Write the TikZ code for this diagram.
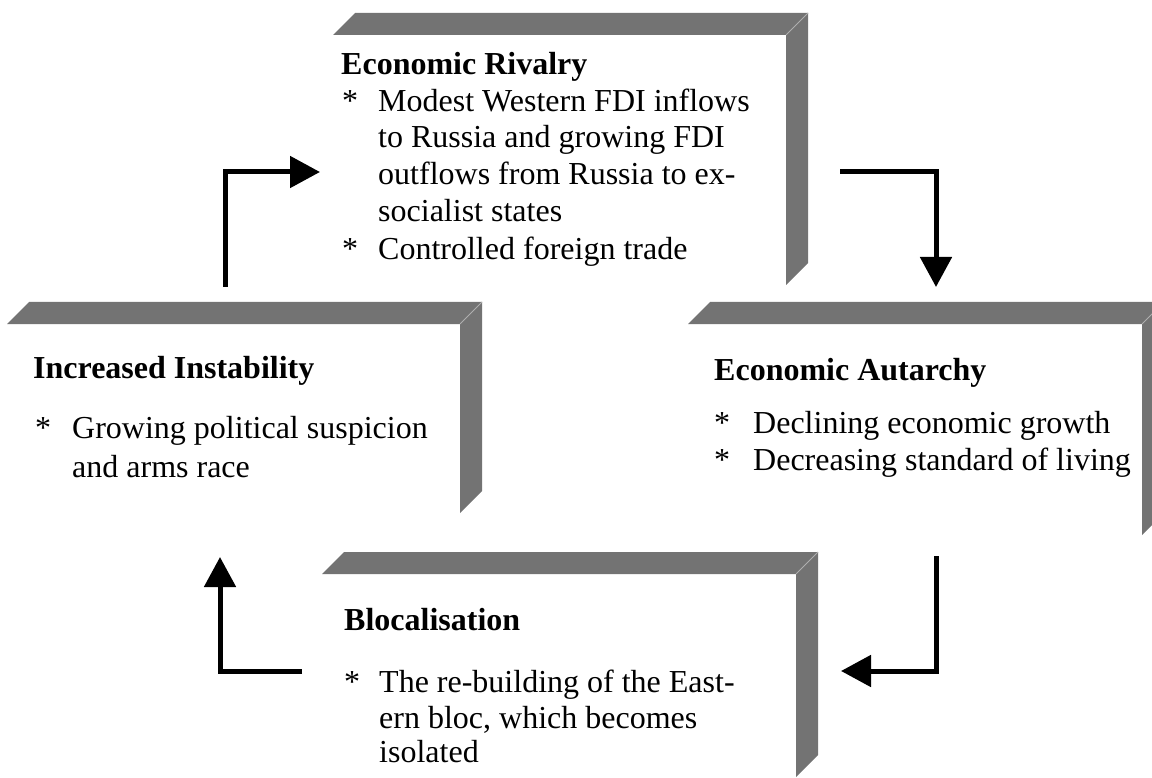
\documentclass[tikz,border=0pt]{standalone}
\usepackage{fontspec}
\setmainfont{Liberation Serif}
\usetikzlibrary{arrows.meta}
\definecolor{bargray}{RGB}{115,115,115}
\definecolor{bevelgray}{RGB}{175,175,175}
\tikzset{
  headtext/.style={anchor=base west, inner sep=0pt, font=\fontsize{32}{37}\selectfont\bfseries},
  bodytext/.style={anchor=base west, inner sep=0pt, font=\fontsize{32}{37}\selectfont},
  flow/.style={line width=5pt, line join=miter, -{Triangle[length=30pt,width=31pt]}}
}
% L = left end of top bar, T = top, R = inner right edge, B = inner bottom
\newcommand{\lframe}[4]{%
  \fill[bargray] (#1,#2+22) -- (#1+22,#2) -- (#3+22,#2) -- (#3,#2+22) -- cycle;
  \fill[bargray] (#3,#2+22) -- (#3+22,#2) -- (#3+22,#4-22) -- (#3,#4) -- cycle;
  \draw[bevelgray, line width=0.8pt] (#3,#2+22) -- (#3+22,#2);
}
\begin{document}
\begin{tikzpicture}[x=1pt, y=-1pt]
\useasboundingbox (0,0) rectangle (1152,778);
\clip (0,0) rectangle (1152,778);

% frames
\lframe{333}{13}{786}{285}
\lframe{7}{302}{460}{513}
\lframe{688}{302}{1142}{535}
\lframe{322}{552}{796}{777}

% Economic Rivalry
\node[headtext] (r0) at (341,75) {Economic Rivalry};
\node[bodytext] (r1s) at (342,112) {*};
\node[bodytext] (r1) at (378,112) {Modest Western FDI inflows};
\node[bodytext] (r2) at (378,148) {to Russia and growing FDI};
\node[bodytext] (r3) at (378,185) {outflows from Russia to ex-};
\node[bodytext] (r4) at (378,222) {socialist states};
\node[bodytext] (r5s) at (342,260) {*};
\node[bodytext] (r5) at (378,260) {Controlled foreign trade};

% Increased Instability
\node[headtext] (i0) at (33,378) {Increased Instability};
\node[bodytext] (i1s) at (35,438) {*};
\node[bodytext] (i1) at (72,438) {Growing political suspicion};
\node[bodytext] (i2) at (72,477) {and arms race};

% Economic Autarchy
\node[headtext] (a0) at (714,380) {Economic Autarchy};
\node[bodytext] (a1s) at (714,433) {*};
\node[bodytext] (a1) at (753,433) {Declining economic growth};
\node[bodytext] (a2s) at (714,470) {*};
\node[bodytext] (a2) at (753,470) {Decreasing standard of living};

% Blocalisation
\node[headtext] (b0) at (344,630) {Blocalisation};
\node[bodytext] (b1s) at (344,692) {*};
\node[bodytext] (b1) at (379,692) {The re-building of the East-};
\node[bodytext] (b2) at (379,728) {ern bloc, which becomes};
\node[bodytext] (b3) at (379,762) {isolated};

% connectors
\coordinate (p1s) at (225,287); \coordinate (p1c) at (225,172); \coordinate (p1e) at (320,172);
\coordinate (p2s) at (840,172); \coordinate (p2c) at (936,172); \coordinate (p2e) at (936,287);
\coordinate (p3s) at (936,556); \coordinate (p3c) at (936,671); \coordinate (p3e) at (841,671);
\coordinate (p4s) at (302,671); \coordinate (p4c) at (220,671); \coordinate (p4e) at (220,557);
\draw[flow] (p1s) -- (p1c) -- (p1e);
\draw[flow] (p2s) -- (p2c) -- (p2e);
\draw[flow] (p3s) -- (p3c) -- (p3e);
\draw[flow] (p4s) -- (p4c) -- (p4e);
\end{tikzpicture}
\end{document}
